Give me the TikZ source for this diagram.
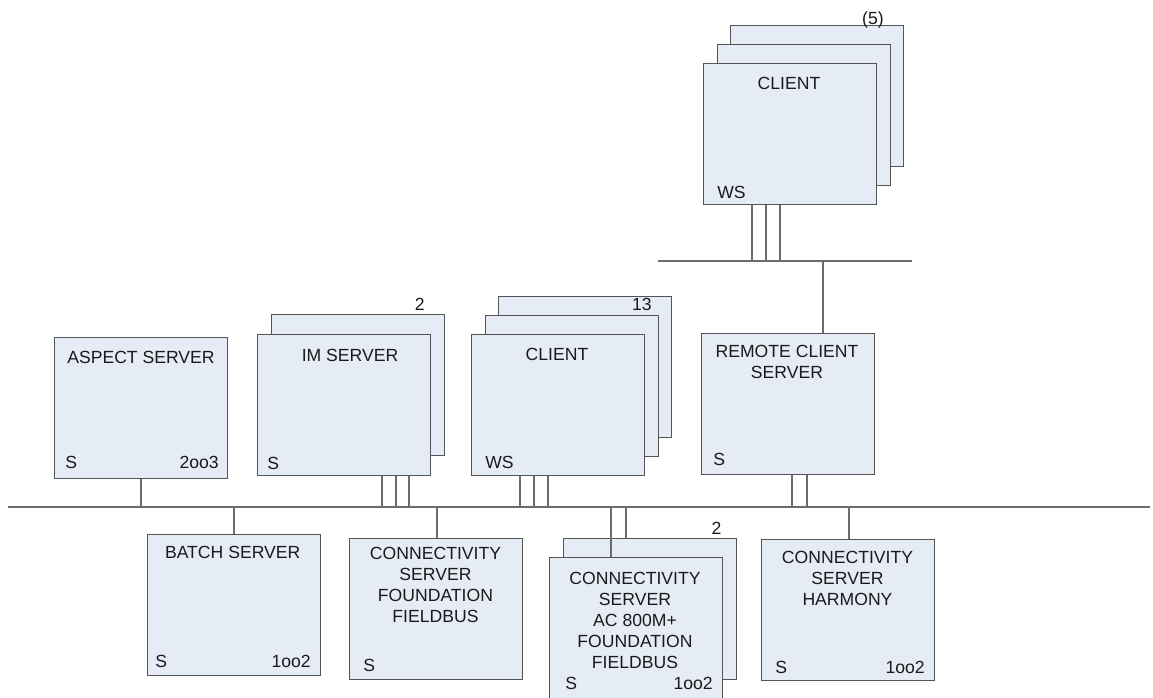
\documentclass[tikz,border=0pt]{standalone}
\usepackage{fontspec}
\setmainfont{Liberation Sans}
\usetikzlibrary{calc}
\definecolor{boxfill}{HTML}{E6ECF6}
\definecolor{boxedge}{HTML}{555555}
\definecolor{wire}{HTML}{6C6C6C}
\definecolor{ink}{HTML}{1A1A1A}

\begin{document}
\begin{tikzpicture}[x=0.75pt,y=-0.75pt,
  srv/.style={draw=boxedge, fill=boxfill, line width=1.1pt, inner sep=0pt,
    minimum width=173*0.75pt, minimum height=141*0.75pt, anchor=north west},
  wireline/.style={draw=wire, line width=1.2pt},
  lbl/.style={inner sep=0pt, text=ink, font=\fontsize{13.2}{15.8}\selectfont},
  ttl/.style={lbl, anchor=base},
  lft/.style={lbl, anchor=base west},
  rgt/.style={lbl, anchor=base east}]

\useasboundingbox (0,0) rectangle (1153,697);
\fill[white] (0,0) rectangle (1153,697);
\clip (0,0) rectangle (1153,697);

% ---- network buses ----
\coordinate (busL) at (8,507);
\coordinate (busR) at (1150,507);
\coordinate (upL) at (658,261);
\coordinate (upR) at (912,261);
\draw[wireline] (busL) -- (busR);
\draw[wireline] (upL) -- (upR);

% ---- remote clients (stack of three) ----
\node[srv] (rcB) at (730,25) {};
\node[srv] (rcM) at (717,44) {};
\node[srv] (rcF) at (703,63) {};
\node[rgt] (rcN) at (884,24.3) {(5)};
\node[ttl] (rcT) at (789,89.3) {CLIENT};
\node[lft] (rcW) at (717,198.3) {WS};
\foreach \dx in {49,63,77}
  \draw[wireline] ($(rcF.south west)+(\dx,0)$) -- ($(rcF.south west |- upL)+(\dx,0)$);

% ---- aspect server ----
\node[srv] (asp) at (54,337) {};
\node[ttl] (aspT) at (141,363.3) {ASPECT SERVER};
\node[lft] (aspS) at (65,468.3) {S};
\node[rgt] (aspR) at (219,468.3) {2oo3};
\draw[wireline] (asp.south) -- (asp.south |- busL);

% ---- IM server (pair) ----
\node[srv] (imB) at (271,314) {};
\node[srv] (imF) at (257,334) {};
\node[rgt] (imN) at (425,310.3) {2};
\node[ttl] (imT) at (350,361.3) {IM SERVER};
\node[lft] (imS) at (267,469.3) {S};
\foreach \dx in {125,139,152}
  \draw[wireline] ($(imF.south west)+(\dx,0)$) -- ($(imF.south west |- busL)+(\dx,0)$);

% ---- clients (stack of three) ----
\node[srv] (clB) at (498,296) {};
\node[srv] (clM) at (485,315) {};
\node[srv] (clF) at (471,334) {};
\node[rgt] (clN) at (652,310.3) {13};
\node[ttl] (clT) at (557,360.3) {CLIENT};
\node[lft] (clW) at (485,468.3) {WS};
\foreach \dx in {49,63,77}
  \draw[wireline] ($(clF.south west)+(\dx,0)$) -- ($(clF.south west |- busL)+(\dx,0)$);

% ---- remote client server ----
\node[srv] (rcs) at (701,333) {};
\node[ttl] (rcsT1) at (787,357.3) {REMOTE CLIENT};
\node[ttl] (rcsT2) at (787,378.3) {SERVER};
\node[lft] (rcsS) at (713,465.3) {S};
\foreach \dx in {91,106}
  \draw[wireline] ($(rcs.south west)+(\dx,0)$) -- ($(rcs.south west |- busL)+(\dx,0)$);
\draw[wireline] ($(rcs.north west)+(122,0)$) -- ($(rcs.north west |- upL)+(122,0)$);

% ---- batch server ----
\node[srv] (bat) at (147,534) {};
\node[ttl] (batT) at (232.7,558.3) {BATCH SERVER};
\node[lft] (batS) at (155,667.3) {S};
\node[rgt] (batR) at (311,667.3) {1oo2};
\draw[wireline] (bat.north) -- (bat.north |- busL);

% ---- connectivity server, foundation fieldbus ----
\node[srv] (ff) at (349,538) {};
\node[ttl] (ffT1) at (435.5,559) {CONNECTIVITY};
\node[ttl] (ffT2) at (435.5,580.3) {SERVER};
\node[ttl] (ffT3) at (435.5,601.6) {FOUNDATION};
\node[ttl] (ffT4) at (435.5,622.9) {FIELDBUS};
\node[lft] (ffS) at (363,671.3) {S};
\draw[wireline] ($(ff.north west)+(88,0)$) -- ($(ff.north west |- busL)+(88,0)$);

% ---- connectivity server, AC 800M + foundation fieldbus (pair) ----
\node[srv] (acB) at (563,538) {};
\node[srv, minimum height=146*0.75pt] (acF) at (549,557) {};
\node[rgt] (acN) at (721.7,534.3) {2};
\node[ttl] (acT1) at (635,584.3) {CONNECTIVITY};
\node[ttl] (acT2) at (635,605.3) {SERVER};
\node[ttl] (acT3) at (635,626.3) {AC 800M+};
\node[ttl] (acT4) at (635,647.3) {FOUNDATION};
\node[ttl] (acT5) at (635,668.3) {FIELDBUS};
\node[lft] (acS) at (565,689.3) {S};
\node[rgt] (acR) at (713,689.3) {1oo2};
\draw[wireline] ($(acF.north west)+(62,0)$) -- ($(acF.north west |- busL)+(62,0)$);
\draw[wireline] ($(acB.north west)+(63,0)$) -- ($(acB.north west |- busL)+(63,0)$);

% ---- connectivity server, harmony ----
\node[srv] (har) at (761,539) {};
\node[ttl] (harT1) at (847.5,563.3) {CONNECTIVITY};
\node[ttl] (harT2) at (847.5,584.3) {SERVER};
\node[ttl] (harT3) at (847.5,605.3) {HARMONY};
\node[lft] (harS) at (775,673.3) {S};
\node[rgt] (harR) at (925,673.3) {1oo2};
\draw[wireline] ($(har.north west)+(88,0)$) -- ($(har.north west |- busL)+(88,0)$);
\end{tikzpicture}
\end{document}
